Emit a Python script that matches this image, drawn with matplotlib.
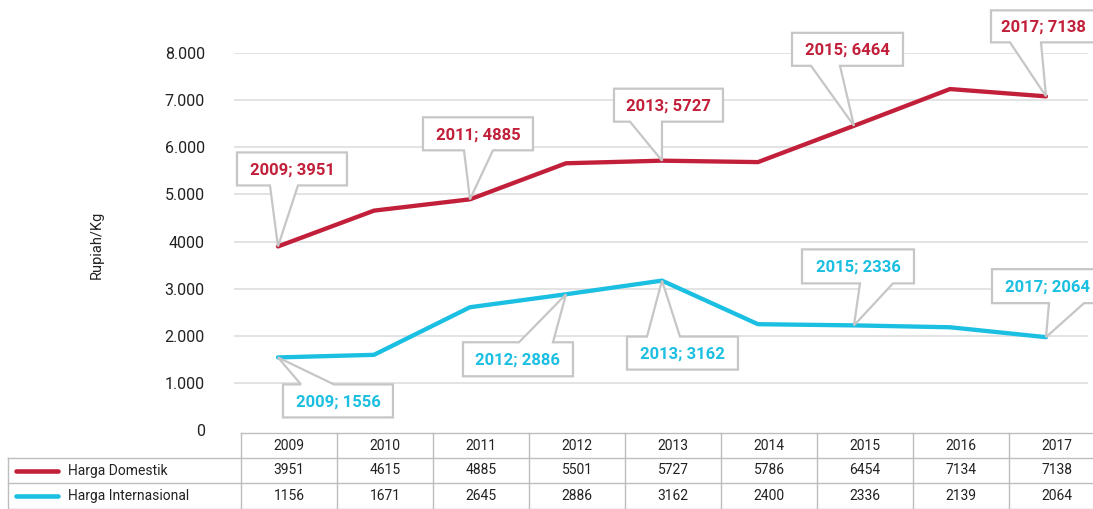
import matplotlib
matplotlib.use("Agg")
import matplotlib.pyplot as plt
from matplotlib.patches import Polygon

plt.rcParams['font.family'] = ['Roboto', 'DejaVu Sans']

# ---------------- data ----------------
years = [2009, 2010, 2011, 2012, 2013, 2014, 2015, 2016, 2017]
# values as drawn by the lines
domestic_line = [3895, 4655, 4895, 5660, 5715, 5685, 6455, 7235, 7080]
international_line = [1540, 1595, 2605, 2880, 3170, 2245, 2220, 2180, 1970]
# values printed in the table
domestic_table = [3951, 4615, 4885, 5501, 5727, 5786, 6454, 7134, 7138]
international_table = [1156, 1671, 2645, 2886, 3162, 2400, 2336, 2139, 2064]
series_names = ["Harga Domestik", "Harga Internasional"]
# callout labels: (year index, printed value)
domestic_callouts = [(0, 3951), (2, 4885), (4, 5727), (6, 6464), (8, 7138)]
international_callouts = [(0, 1556), (3, 2886), (4, 3162), (6, 2336), (8, 2064)]
yticks = [0, 1000, 2000, 3000, 4000, 5000, 6000, 7000, 8000]
ytick_labels = ["0", "1.000", "2.000", "3.000", "4000", "5.000", "6.000", "7.000", "8.000"]
ylabel = "Rupiah/Kg"

RED = "#c2203a"
CYAN = "#1bbfe1"
GRID = "#dedede"
BORDER = "#c6c6c6"
TXT = "#222222"

W, H = 1093, 509
fig = plt.figure(figsize=(W / 100, H / 100), dpi=100)

# main plot axes (pixel layout)
ax = fig.add_axes([234 / W, 1 - 430 / H, (1088 - 234) / W, (430 - 53) / H])
x = list(range(len(years)))
ax.set_xlim(-0.458, 8.4375)
ax.set_ylim(0, 8000)
for yv in yticks[1:]:
    ax.axhline(yv, color=GRID, lw=1.2, zorder=0)
ax.set_yticks(yticks)
ax.set_yticklabels(ytick_labels, fontsize=11.5, color=TXT)
ax.tick_params(axis='y', length=0, pad=21)
ax.set_xticks([])
for s in ax.spines.values():
    s.set_visible(False)
ax.plot(x, domestic_line, color=RED, lw=3.1, solid_capstyle='round', solid_joinstyle='round', zorder=3)
ax.plot(x, international_line, color=CYAN, lw=3.1, solid_capstyle='round', solid_joinstyle='round', zorder=3)
fig.text(97 / W, 1 - 245 / H, ylabel, rotation=90, ha='center', va='center', fontsize=10.5, color=TXT)

# overlay axes in pixel coordinates
ov = fig.add_axes([0, 0, 1, 1])
ov.set_xlim(0, W)
ov.set_ylim(H, 0)
ov.axis('off')
ov.set_zorder(5)


def to_px(xi, yv):
    dx, dy = ax.transData.transform((xi, yv))
    return dx, H - dy


# callout layouts: box (x0, x1, y0, y1) and pointer base (b0, b1) relative to tip
dom_layout = [
    (-41, 69, -94, -61, -8, 20),
    (-47, 63, -82, -49, -6, 23),
    (-48, 61, -72, -39, -32, 0),
    (-62, 49, -93, -60, -43, -14),
    (-55, 50, -86, -54, -36, -5),
]
int_layout = [
    (5, 115, 27, 60, 23, 56),
    (-103, 7, 48, 82, -47, -13),
    (-35, 76, 56, 89, -15, 18),
    (-52, 60, -76, -42, 6, 39),
    (-54, 58, -68, -34, 3, 38),
]


def callout(xi, yv, text, color, lay):
    tx, ty = to_px(xi, yv)
    x0, x1, y0, y1, b0, b1 = lay
    bx0, bx1, by0, by1 = tx + x0, tx + x1, ty + y0, ty + y1
    ba, bb = tx + b0, tx + b1
    if y1 < 0:  # box above tip, pointer from bottom edge
        pts = [(bx0, by0), (bx1, by0), (bx1, by1), (bb, by1), (tx, ty), (ba, by1), (bx0, by1)]
    else:  # box below tip, pointer from top edge
        pts = [(bx0, by0), (ba, by0), (tx, ty), (bb, by0), (bx1, by0), (bx1, by1), (bx0, by1)]
    poly = Polygon(pts, closed=True, facecolor='white', edgecolor=BORDER, lw=1.6,
                   joinstyle='miter', zorder=6, clip_on=False)
    ov.add_patch(poly)
    ov.text((bx0 + bx1) / 2, (by0 + by1) / 2 + 1, text, color=color, fontsize=12,
            fontweight='bold', ha='center', va='center', zorder=7)


for (i, v), lay in zip(domestic_callouts, dom_layout):
    callout(i, domestic_line[i], f"{years[i]}; {v}", RED, lay)
for (i, v), lay in zip(international_callouts, int_layout):
    callout(i, international_line[i], f"{years[i]}; {v}", CYAN, lay)

# ---------------- data table ----------------
col0 = 241
colw = 96
rows_y = [433, 458, 483, 509]
lc = "#bdbdbd"
lw = 1.0
ncol = len(years)
right = col0 + colw * ncol
ov.plot([col0, right], [rows_y[0], rows_y[0]], color=lc, lw=lw)
for ry in rows_y[1:3]:
    ov.plot([8, right], [ry, ry], color=lc, lw=lw)
ov.plot([8, right], [508.5, 508.5], color=lc, lw=lw)
ov.plot([8, 8], [rows_y[1], 509], color=lc, lw=lw)
for c in range(ncol + 1):
    xx = col0 + colw * c
    ov.plot([xx, xx], [rows_y[0], 509], color=lc, lw=lw)

for c, yr in enumerate(years):
    cx = col0 + colw * c + colw / 2
    ov.text(cx, (rows_y[0] + rows_y[1]) / 2, str(yr), ha='center', va='center', fontsize=10, color=TXT)
    ov.text(cx, (rows_y[1] + rows_y[2]) / 2, str(domestic_table[c]), ha='center', va='center', fontsize=10, color=TXT)
    ov.text(cx, (rows_y[2] + rows_y[3]) / 2, str(international_table[c]), ha='center', va='center', fontsize=10, color=TXT)

for r, (name, col) in enumerate(zip(series_names, [RED, CYAN])):
    cy = (rows_y[r + 1] + rows_y[r + 2]) / 2
    ov.plot([16, 58], [cy, cy], color=col, lw=3.3, solid_capstyle='round')
    ov.text(68, cy, name, ha='left', va='center', fontsize=10, color=TXT)

fig.savefig("out.png", dpi=100)
